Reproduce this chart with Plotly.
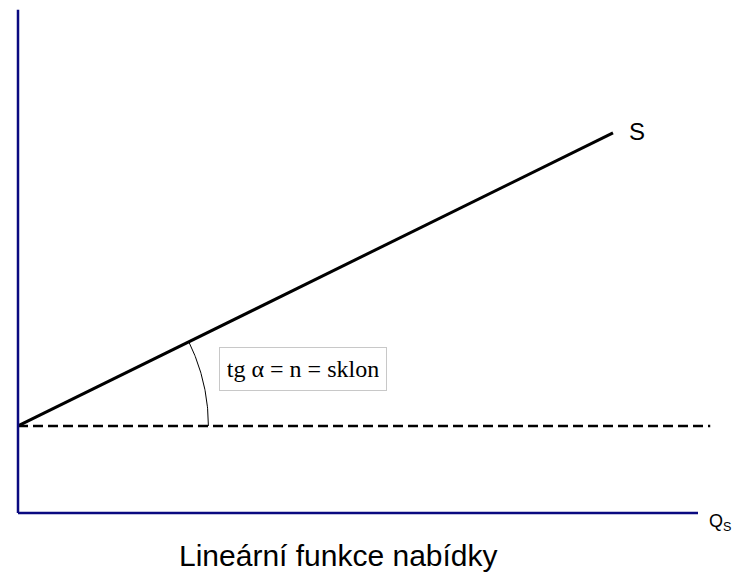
import numpy as np
import plotly.graph_objects as go

# ---- data (chart units) ----
supply_q = [0.0, 87.5]
supply_p = [12.8, 55.9]
level_q = [0.0, 101.8]
level_p = [12.8, 12.8]
p_axis_q = [0.0, 0.0]
p_axis_p = [0.0, 74.0]
q_axis_q = [0.0, 100.0]
q_axis_p = [0.0, 0.0]
arc_radius = 28.0

title_text = "Lineární funkce nabídky"
slope_text = "tg α = n = sklon"
curve_label = "S"
q_label = "Q<sub>S</sub>"

W, H = 739, 578
PX = 6.8  # pixels per unit
ox, oy = 18, 513
x_range = [-ox / PX, (W - ox) / PX]
y_range = [-(H - oy) / PX, oy / PX]

narrow = "Liberation Sans Narrow, Arial Narrow, Liberation Sans, Arial, sans-serif"
serif = "Liberation Serif, Times New Roman, serif"

fig = go.Figure()

# dashed horizontal level
fig.add_trace(go.Scatter(x=level_q, y=level_p, mode="lines",
                         line=dict(color="black", width=2.5, dash="10px,5px"),
                         hoverinfo="skip"))
# supply line
fig.add_trace(go.Scatter(x=supply_q, y=supply_p, mode="lines",
                         line=dict(color="black", width=3), hoverinfo="skip"))
# angle arc
ang = np.arctan2(supply_p[1] - supply_p[0], supply_q[1] - supply_q[0])
t = np.linspace(0, ang, 60)
fig.add_trace(go.Scatter(x=supply_q[0] + arc_radius * np.cos(t),
                         y=supply_p[0] + arc_radius * np.sin(t),
                         mode="lines", line=dict(color="black", width=1),
                         hoverinfo="skip"))
# axes
fig.add_trace(go.Scatter(x=p_axis_q, y=p_axis_p, mode="lines",
                         line=dict(color="#0a0a80", width=2.5), hoverinfo="skip"))
fig.add_trace(go.Scatter(x=q_axis_q, y=q_axis_p, mode="lines",
                         line=dict(color="#0a0a80", width=2.5), hoverinfo="skip"))

def px2x(px):
    return (px - ox) / PX

def py2y(py):
    return (oy - py) / PX

annotations = [
    dict(x=px2x(303), y=py2y(369), xref="x", yref="y", text=slope_text,
         showarrow=False, font=dict(family=serif, size=24, color="black"),
         bordercolor="#c8c8c8", borderwidth=1, bgcolor="white",
         width=152, height=28, borderpad=7, xanchor="center", yanchor="middle"),
    dict(x=px2x(637), y=py2y(131), xref="x", yref="y", text=curve_label,
         showarrow=False, font=dict(family=narrow, size=24, color="black"),
         xanchor="center", yanchor="middle"),
    dict(x=px2x(707), y=py2y(522), xref="x", yref="y", text=q_label,
         showarrow=False, font=dict(family=narrow, size=18, color="black"),
         xanchor="left", yanchor="middle"),
    dict(x=px2x(338), y=py2y(555), xref="x", yref="y", text=title_text,
         showarrow=False, font=dict(family=narrow, size=30, color="black"),
         xanchor="center", yanchor="middle"),
]

fig.update_layout(
    width=W, height=H,
    margin=dict(l=0, r=0, t=0, b=0),
    paper_bgcolor="white", plot_bgcolor="white",
    showlegend=False,
    xaxis=dict(range=x_range, visible=False, fixedrange=True),
    yaxis=dict(range=y_range, visible=False, fixedrange=True),
    annotations=annotations,
)

fig.write_html("out.html",
               config={"displayModeBar": False, "staticPlot": True},
               post_script="document.body.style.margin='0';document.body.style.overflow='hidden';")
